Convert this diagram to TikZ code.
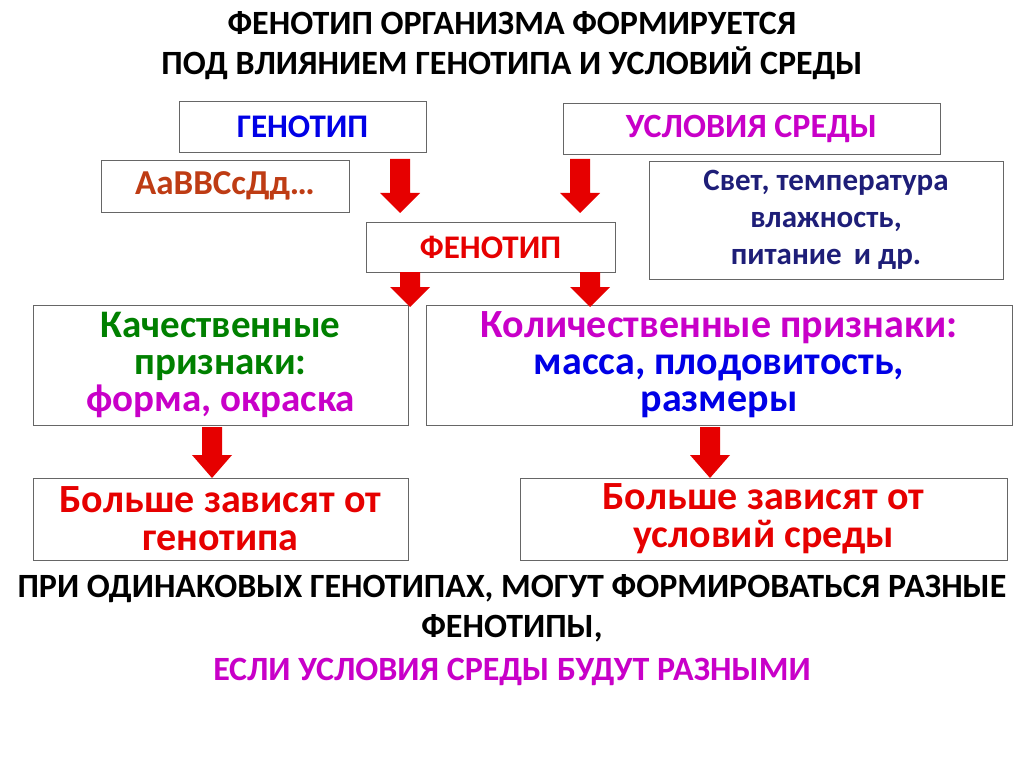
\documentclass[tikz,border=0pt]{standalone}
\usepackage{fontspec}
\setmainfont{Carlito}
\definecolor{rd}{RGB}{230,0,0}
\definecolor{bl}{RGB}{0,0,230}
\definecolor{mg}{RGB}{200,0,200}
\definecolor{br}{RGB}{190,60,20}
\definecolor{nv}{RGB}{30,30,120}
\definecolor{gr}{RGB}{0,128,0}
\tikzset{box/.style={draw=black!60,line width=0.8pt,align=center,font=\bfseries\fontsize{33}{38}\selectfont,inner sep=0pt},
 txt/.style={align=center,font=\bfseries\fontsize{34}{40}\selectfont}}
\newcommand{\redarr}[4]{% cx, top, headstart, tip
 \fill[rd] (#1-10,#2) -- (#1+10,#2) -- (#1+10,#3) -- (#1+20,#3) -- (#1,#4) -- (#1-20,#3) -- (#1-10,#3) -- cycle;}
\begin{document}
\begin{tikzpicture}[x=1pt,y=-1pt]
\useasboundingbox (0,0) rectangle (1024,767);
\node[txt] (t) at (512,46) {ФЕНОТИП ОРГАНИЗМА ФОРМИРУЕТСЯ\\ПОД ВЛИЯНИЕМ ГЕНОТИПА И УСЛОВИЙ СРЕДЫ};
\node[box,minimum width=247,minimum height=51,text=bl] (g) at (302.5,126.5) {ГЕНОТИП};
\node[box,minimum width=377,minimum height=51,text=mg,font=\bfseries\fontsize{34}{38}\selectfont] (u) at (751.5,128.5) {УСЛОВИЯ СРЕДЫ};
\node[box,minimum width=248,minimum height=52,text=br,font=\bfseries\fontsize{35}{40}\selectfont] (a) at (225,186) {АаВВСсДд…};
\node[box,minimum width=354,minimum height=118,text=nv,font=\bfseries\fontsize{31}{37}\selectfont] (s) at (826,220) {Свет, температура\\влажность,\\питание\, и др.};
\node[box,minimum width=249,minimum height=50,text=rd] (f) at (490.5,247) {ФЕНОТИП};
\node[box,minimum width=375,minimum height=120,font=\bfseries\fontsize{39}{37}\selectfont] (k) at (220.5,365) {\textcolor{gr}{Качественные}\\\textcolor{gr}{признаки:}\\\textcolor{mg}{форма, окраска}};
\node[box,minimum width=586,minimum height=120,font=\bfseries\fontsize{40}{37}\selectfont] (q) at (719,365) {\textcolor{mg}{Количественные признаки:}\\\textcolor{bl}{масса, плодовитость,}\\\textcolor{bl}{размеры}};
\node[box,minimum width=375,minimum height=82,text=rd,font=\bfseries\fontsize{40}{38}\selectfont] (b1) at (220.5,519) {Больше зависят от\\генотипа};
\node[box,minimum width=487,minimum height=82,text=rd,font=\bfseries\fontsize{40}{38}\selectfont] (b2) at (763.5,519) {Больше зависят от\\условий среды};
\node[txt] (p) at (512,608) {ПРИ ОДИНАКОВЫХ ГЕНОТИПАХ, МОГУТ ФОРМИРОВАТЬСЯ РАЗНЫЕ\\ФЕНОТИПЫ,};
\node[txt,text=mg] (e) at (512,672) {ЕСЛИ УСЛОВИЯ СРЕДЫ БУДУТ РАЗНЫМИ};
\redarr{400}{159}{193}{213}
\redarr{580}{159}{193}{213}
\redarr{410}{272}{287}{307}
\redarr{590}{272}{287}{307}
\redarr{212}{427}{455}{478}
\redarr{710}{427}{455}{478}
\end{tikzpicture}
\end{document}
